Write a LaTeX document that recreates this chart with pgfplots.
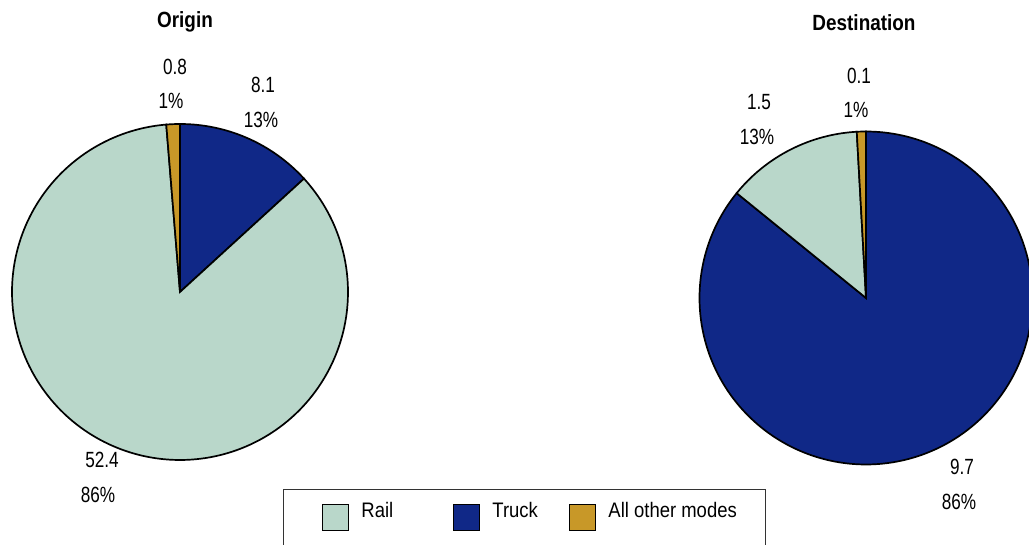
\documentclass[border=0pt]{standalone}
\usepackage{pgfplots}
\usepackage{pgfplotstable}
\pgfplotsset{compat=1.18}
\usepackage{fontspec}
\setmainfont{Liberation Sans}
\newfontfamily\labfont[FakeStretch=0.78]{Liberation Sans}
\newfontfamily\titfont[FakeStretch=0.86]{Liberation Sans}
\newfontfamily\legfont[FakeStretch=0.88]{Liberation Sans}
\definecolor{railc}{HTML}{B9D7CA}
\definecolor{truckc}{HTML}{102887}
\definecolor{otherc}{HTML}{C89828}

\pgfplotstableread{
mode value
Truck 8.1
Rail 52.4
Other 0.8
}\origintable
\pgfplotstableread{
mode value
Truck 9.7
Rail 1.5
Other 0.1
}\desttable

\pgfplotstablegetelem{0}{value}\of\origintable \let\oT\pgfplotsretval
\pgfplotstablegetelem{1}{value}\of\origintable \let\oR\pgfplotsretval
\pgfplotstablegetelem{2}{value}\of\origintable \let\oO\pgfplotsretval
\pgfplotstablegetelem{0}{value}\of\desttable \let\dT\pgfplotsretval
\pgfplotstablegetelem{1}{value}\of\desttable \let\dR\pgfplotsretval
\pgfplotstablegetelem{2}{value}\of\desttable \let\dO\pgfplotsretval

\pgfmathsetmacro\oTot{\oT+\oR+\oO}
\pgfmathsetmacro\oA{90-360*(\oT/\oTot)}
\pgfmathsetmacro\oB{\oA-360*(\oR/\oTot)}
\pgfmathsetmacro\dTot{\dT+\dR+\dO}
\pgfmathsetmacro\dA{90-360*(\dT/\dTot)}
\pgfmathsetmacro\dB{\dA-360*(\dR/\dTot)}

\def\ocx{180}\def\ocy{253}\def\orad{168}
\def\dcx{866}\def\dcy{247}\def\drad{166.5}

\begin{document}
\begin{tikzpicture}
\useasboundingbox (0,0) rectangle (1029pt,545pt);
\begin{axis}[
  at={(0,0)}, anchor=south west,
  width=1029pt, height=545pt, scale only axis,
  xmin=0, xmax=1029, ymin=0, ymax=545,
  hide axis, clip=true,
  legend columns=3,
  legend style={at={(axis cs:283,56)}, anchor=north west, draw=black!80, line width=0.9pt,
    inner xsep=29pt, inner ysep=13pt, column sep=0pt,
    nodes={inner sep=0pt, anchor=base, font=\legfont\fontsize{21}{24}\selectfont}},
  legend image code/.code={
    \path[draw=none, fill=none] (0pt,-25pt) rectangle (49pt,13pt);
    \draw[#1, draw=black, line width=0.9pt] (10pt,-13pt) rectangle (36pt,13pt);
  },
]
% Origin pie
\addplot[fill=truckc, draw=black, line width=1.7pt, domain=\oA:90, samples=60, forget plot]
  ({\ocx+\orad*cos(x)},{\ocy+\orad*sin(x)}) -- (axis cs:\ocx,\ocy) -- cycle;
\addplot[fill=railc, draw=black, line width=1.7pt, domain=\oB:\oA, samples=200, forget plot]
  ({\ocx+\orad*cos(x)},{\ocy+\orad*sin(x)}) -- (axis cs:\ocx,\ocy) -- cycle;
\addplot[fill=otherc, draw=black, line width=1.7pt, domain=-270:\oB, samples=5, forget plot]
  ({\ocx+\orad*cos(x)},{\ocy+\orad*sin(x)}) -- (axis cs:\ocx,\ocy) -- cycle;
% Destination pie
\addplot[fill=truckc, draw=black, line width=1.7pt, domain=\dA:90, samples=200, forget plot]
  ({\dcx+\drad*cos(x)},{\dcy+\drad*sin(x)}) -- (axis cs:\dcx,\dcy) -- cycle;
\addplot[fill=railc, draw=black, line width=1.7pt, domain=\dB:\dA, samples=60, forget plot]
  ({\dcx+\drad*cos(x)},{\dcy+\drad*sin(x)}) -- (axis cs:\dcx,\dcy) -- cycle;
\addplot[fill=otherc, draw=black, line width=1.7pt, domain=-270:\dB, samples=5, forget plot]
  ({\dcx+\drad*cos(x)},{\dcy+\drad*sin(x)}) -- (axis cs:\dcx,\dcy) -- cycle;

\addlegendimage{fill=railc}
\addlegendentry{\makebox[82pt][l]{Rail}}
\addlegendimage{fill=truckc}
\addlegendentry{\makebox[67pt][l]{Truck}}
\addlegendimage{fill=otherc}
\addlegendentry{All other modes}

% titles
\node[anchor=base, font=\titfont\bfseries\fontsize{22}{26}\selectfont] at (axis cs:185,517) {Origin};
\node[anchor=base, font=\titfont\bfseries\fontsize{22}{26}\selectfont] at (axis cs:864,514) {Destination};
% labels
\tikzset{lab/.style={anchor=base, inner sep=0pt, font=\labfont\fontsize{22}{26}\selectfont}}
\node[lab] at (axis cs:175,470) {0.8};
\node[lab] at (axis cs:171,436) {1\%};
\node[lab] at (axis cs:263,452) {8.1};
\node[lab] at (axis cs:261,417) {13\%};
\node[lab] at (axis cs:102,77) {52.4};
\node[lab] at (axis cs:98,42) {86\%};
\node[lab] at (axis cs:859,461) {0.1};
\node[lab] at (axis cs:856,427) {1\%};
\node[lab] at (axis cs:759,435) {1.5};
\node[lab] at (axis cs:757,400) {13\%};
\node[lab] at (axis cs:962,70) {9.7};
\node[lab] at (axis cs:959,35) {86\%};
\end{axis}
\end{tikzpicture}
\end{document}
